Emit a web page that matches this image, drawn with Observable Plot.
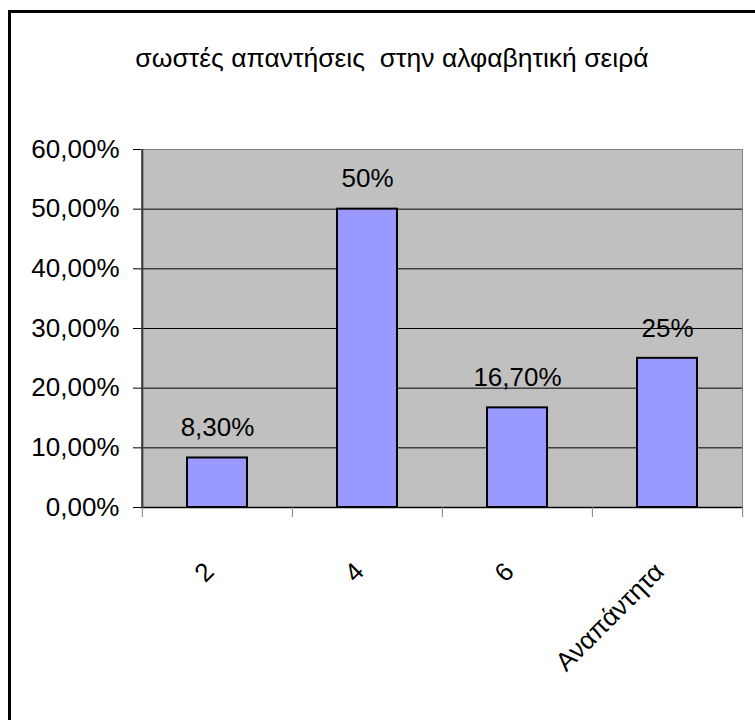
<!DOCTYPE html>
<html><head><meta charset="utf-8">
<script src="https://cdn.jsdelivr.net/npm/d3@7"></script>
<script src="https://cdn.jsdelivr.net/npm/@observablehq/plot@0.6"></script>
<style>
body{margin:0;overflow:hidden;background:#fff;}
#wrap{position:relative;width:755px;height:720px;overflow:hidden;font-family:"Liberation Sans Narrow","Arial Narrow","Liberation Sans",sans-serif;}
#border{position:absolute;left:8px;top:10px;width:900px;height:900px;border-left:3px solid #000;border-top:3px solid #000;}
#title{position:absolute;left:0;width:784px;top:43px;text-align:center;font-size:26.5px;white-space:pre;color:#000;}
#chart{position:absolute;left:0;top:0;}
</style></head><body>
<div id="wrap"><div id="border"></div><div id="title">σωστές απαντήσεις  στην αλφαβητική σειρά</div><div id="chart"></div></div>
<script>
const categories = ["2", "4", "6", "Αναπάντητα"];
const values = [8.3, 50, 16.7, 25];
const valueLabels = ["8,30%", "50%", "16,70%", "25%"];
const yTicks = [0, 10, 20, 30, 40, 50, 60];

const data = categories.map((c, i) => ({category: c, value: values[i], label: valueLabels[i]}));
const W = 755, H = 720, mL = 141, mR = 13, mT = 149, mB = 213;
const step = (W - mL - mR) / categories.length;
const fmt = d => d.toFixed(2).replace(".", ",") + "%";
const font = '"Liberation Sans Narrow","Arial Narrow","Liberation Sans",sans-serif';

const chart = Plot.plot({
  width: W, height: H, marginLeft: mL, marginRight: mR, marginTop: mT, marginBottom: mB,
  style: {fontFamily: font, fontSize: "26px", color: "#000", background: "transparent", overflow: "visible"},
  x: {domain: categories, paddingInner: 0.6, paddingOuter: 0.3},
  y: {domain: [0, 60]},
  marks: [
    Plot.frame({fill: "#C0C0C0", stroke: "#808080"}),
    Plot.ruleY(yTicks.slice(1, -1), {stroke: "#000"}),
    Plot.barY(data, {x: "category", y: "value", fill: "#9999FF", stroke: "#000", strokeWidth: 2}),
    Plot.ruleY([0], {stroke: "#000", strokeWidth: 1.5}),
    Plot.ruleX(categories.slice(0, 1), {x: d => d, dx: -step / 2, stroke: "#404040", strokeWidth: 2}),
    Plot.axisY({ticks: yTicks, tickSize: 8, tickPadding: 14, tickFormat: fmt, stroke: "#000", label: null}),
    Plot.axisX({ticks: categories, tickSize: 10, dx: -step / 2, tickFormat: () => "", stroke: "#808080", label: null}),
    Plot.axisX({ticks: categories.slice(-1), tickSize: 10, dx: step / 2, tickFormat: () => "", stroke: "#808080", label: null}),
    Plot.axisX({ticks: categories, tickSize: 0, tickPadding: 60, tickRotate: -45, dx: -8, label: null}),
    Plot.text(data, {x: "category", y: "value", text: "label", dy: -30})
  ]
});
document.getElementById("chart").appendChild(chart);
</script>
</body></html>
